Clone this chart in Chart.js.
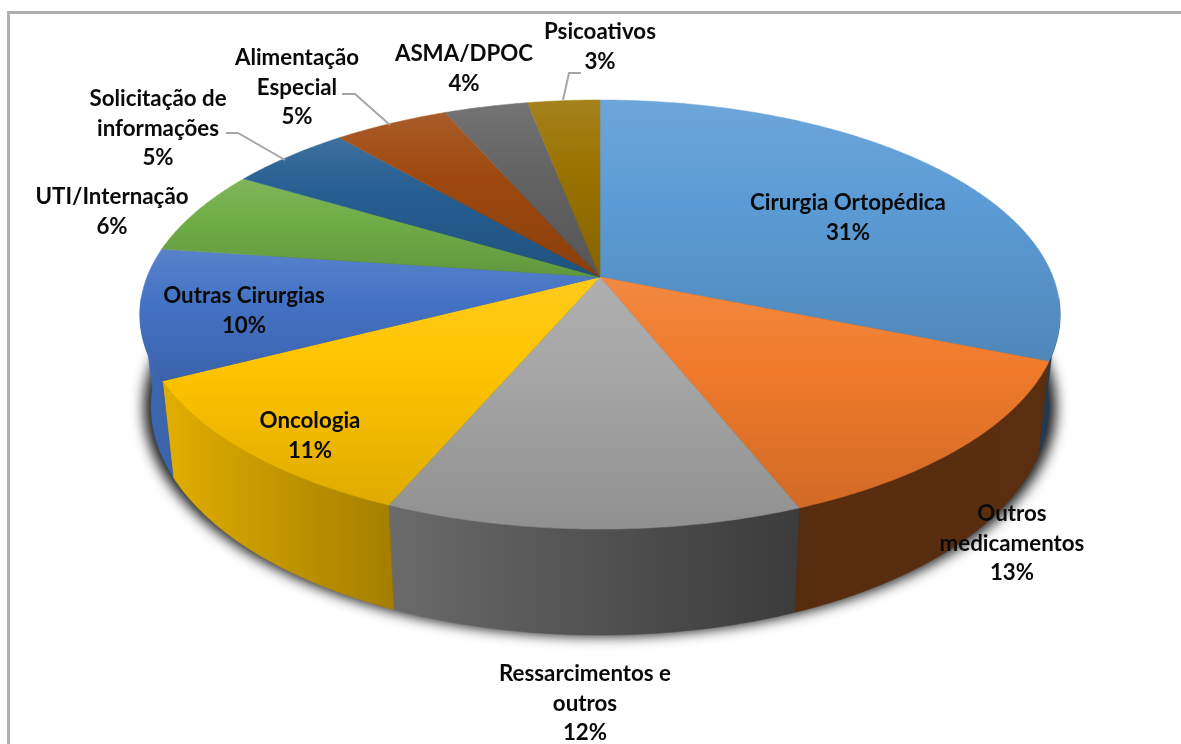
<!DOCTYPE html>
<html>
<head>
<meta charset="utf-8">
<script src="https://cdn.jsdelivr.net/npm/chart.js@4"></script>
<style>
  html, body { margin: 0; padding: 0; background: #fff; overflow: hidden; }
  #frame { position: absolute; left: 7px; top: 11px; width: 1174px; height: 733px; border-top: 3px solid #aeaeae; border-left: 3px solid #aeaeae; }
  #myChart { position: absolute; left: 0; top: 0; filter: blur(0.6px); }
</style>
</head>
<body>
<div id="frame"></div>
<canvas id="myChart" width="1181" height="744"></canvas>
<script>
const categories = ['Cirurgia Ortopédica', 'Outros medicamentos', 'Ressarcimentos e outros', 'Oncologia', 'Outras Cirurgias',
                    'UTI/Internação', 'Solicitação de informações', 'Alimentação Especial', 'ASMA/DPOC', 'Psicoativos'];
const shares = [31.2, 12.8, 12.4, 11, 9.8, 6.4, 5.1, 4.8, 3.5, 3];
const sliceColors = ['#5B9BD5', '#F07A2A', '#A5A5A5', '#FFC400', '#4472C4', '#70AD47', '#255E91', '#9E480E', '#636363', '#997300'];

// label line breaks and where each label sits (centre x, centre y of the first line)
const labelLines = [['Cirurgia Ortopédica'], ['Outros', 'medicamentos'], ['Ressarcimentos e', 'outros'], ['Oncologia'], ['Outras Cirurgias'],
                    ['UTI/Internação'], ['Solicitação de', 'informações'], ['Alimentação', 'Especial'], ['ASMA/DPOC'], ['Psicoativos']];
const labelSpots = [[848, 203], [1012, 514], [585, 674], [310, 421], [244, 296], [112, 197], [158, 99], [297, 58], [464, 54], [600, 32]];
const leaderLines = [
    [[226, 133], [238, 133], [285, 160]],
    [[342, 94], [355, 94], [390, 125]],
    [[581, 73], [569, 73], [563, 100]]
];

// the tilted disc: perspective projection of the unit circle
const topFace = { cx: 600, cy: 277, a: 453, b: 208, k: 0.175 };
const bottomFace = { cx: 600, cy: 366, a: 442, b: 222, k: 0.175 };

function project(face, angle) {
    // chart.js angle, 0 = 3 o'clock, clockwise
    const u = Math.cos(angle);
    const w = Math.sin(angle);
    const d = 1 - face.k * w;
    return [face.cx + face.a * u / d, face.cy + face.b * w / d];
}

function rimPoints(face, start, end) {
    const pts = [];
    const n = Math.max(2, Math.ceil((end - start) / 0.01));
    for (let i = 0; i <= n; i++) {
        pts.push(project(face, start + (end - start) * i / n));
    }
    return pts;
}

function rgb(hex) {
    return [1, 3, 5].map(i => parseInt(hex.substr(i, 2), 16));
}

function shade(hex, f) {
    return 'rgb(' + rgb(hex).map(v => Math.round(v * f)).join(',') + ')';
}

function tint(hex, f) {
    return 'rgb(' + rgb(hex).map(v => Math.round(v + (255 - v) * f)).join(',') + ')';
}

function wallFactor(x) {
    // light falls off from the left side of the wall to the right
    const stops = [[150, 0.9], [395, 0.64], [791, 0.36], [1060, 0.38]];
    if (x <= stops[0][0]) return stops[0][1];
    for (let i = 1; i < stops.length; i++) {
        if (x <= stops[i][0]) {
            const t = (x - stops[i - 1][0]) / (stops[i][0] - stops[i - 1][0]);
            return stops[i - 1][1] + (stops[i][1] - stops[i - 1][1]) * t;
        }
    }
    return stops[stops.length - 1][1];
}

function tracePath(ctx, pts) {
    ctx.beginPath();
    pts.forEach((p, i) => i ? ctx.lineTo(p[0], p[1]) : ctx.moveTo(p[0], p[1]));
    ctx.closePath();
}

function drawShadow(ctx) {
    // shape itself stays off the canvas, only its blurred shadow lands on the chart
    const off = 3000;
    const pts = rimPoints({ ...bottomFace, a: bottomFace.a + 7 }, 0, Math.PI * 2).map(p => [p[0] - off, p[1]]);
    ctx.save();
    ctx.shadowColor = 'rgba(0,0,0,0.9)';
    ctx.shadowBlur = 13;
    ctx.shadowOffsetX = off;
    ctx.shadowOffsetY = 1;
    ctx.fillStyle = '#000';
    tracePath(ctx, pts);
    ctx.fill();
    ctx.restore();
}

function drawWall(ctx, arc, color) {
    // only the front of the wall shows, the back would bleed through the top rim
    const start = Math.max(arc.startAngle, 0.1);
    const end = Math.min(arc.endAngle, Math.PI - 0.1);
    if (end <= start) return;
    const topRim = rimPoints(topFace, start, end);
    const botRim = rimPoints(bottomFace, start, end).reverse();
    const pts = topRim.concat(botRim);
    const xs = pts.map(p => p[0]);
    const x0 = Math.min(...xs);
    const x1 = Math.max(...xs);
    const grad = ctx.createLinearGradient(x0, 0, x1, 0);
    for (let i = 0; i <= 6; i++) {
        grad.addColorStop(i / 6, shade(color, wallFactor(x0 + (x1 - x0) * i / 6)));
    }
    tracePath(ctx, pts);
    ctx.fillStyle = grad;
    ctx.strokeStyle = grad;
    ctx.lineWidth = 0.5;
    ctx.fill();
    ctx.stroke();
}

function drawTop(ctx, arc, color) {
    const pts = [[topFace.cx, topFace.cy]].concat(rimPoints(topFace, arc.startAngle, arc.endAngle));
    const ys = pts.map(p => p[1]);
    const grad = ctx.createLinearGradient(0, Math.min(...ys), 0, Math.max(...ys));
    grad.addColorStop(0, tint(color, 0.11));
    grad.addColorStop(0.4, color);
    grad.addColorStop(1, shade(color, 0.87));
    tracePath(ctx, pts);
    ctx.fillStyle = grad;
    ctx.strokeStyle = grad;
    ctx.lineWidth = 0.5;
    ctx.fill();
    ctx.stroke();
}

const pie3d = {
    id: 'pie3d',
    beforeDatasetsDraw(chart) {
        const ctx = chart.ctx;
        const arcs = chart.getDatasetMeta(0).data;
        drawShadow(ctx);
        arcs.forEach((arc, i) => drawWall(ctx, arc, sliceColors[i]));
        arcs.forEach((arc, i) => drawTop(ctx, arc, sliceColors[i]));
        return false; // arcs are drawn above, skip the flat ones
    },
    afterDraw(chart) {
        const ctx = chart.ctx;
        ctx.save();
        ctx.strokeStyle = '#a6a6a6';
        ctx.lineWidth = 2;
        leaderLines.forEach(line => {
            ctx.beginPath();
            line.forEach((p, i) => i ? ctx.lineTo(p[0], p[1]) : ctx.moveTo(p[0], p[1]));
            ctx.stroke();
        });
        ctx.fillStyle = '#0a0a0a';
        ctx.font = 'bold 22.3px Lato';
        ctx.textAlign = 'center';
        ctx.textBaseline = 'middle';
        const data = chart.data.datasets[0].data;
        labelLines.forEach((lines, i) => {
            const rows = lines.concat(Math.round(data[i]) + '%');
            rows.forEach((row, r) => ctx.fillText(row, labelSpots[i][0], labelSpots[i][1] + r * 29.5));
        });
        ctx.restore();
    }
};

new Chart(document.getElementById('myChart'), {
    type: 'pie',
    data: {
        labels: categories,
        datasets: [{ data: shares, backgroundColor: sliceColors, borderWidth: 0 }]
    },
    options: {
        responsive: false,
        animation: false,
        plugins: {
            legend: { display: false },
            tooltip: { enabled: false }
        }
    },
    plugins: [pie3d]
});
</script>
</body>
</html>
